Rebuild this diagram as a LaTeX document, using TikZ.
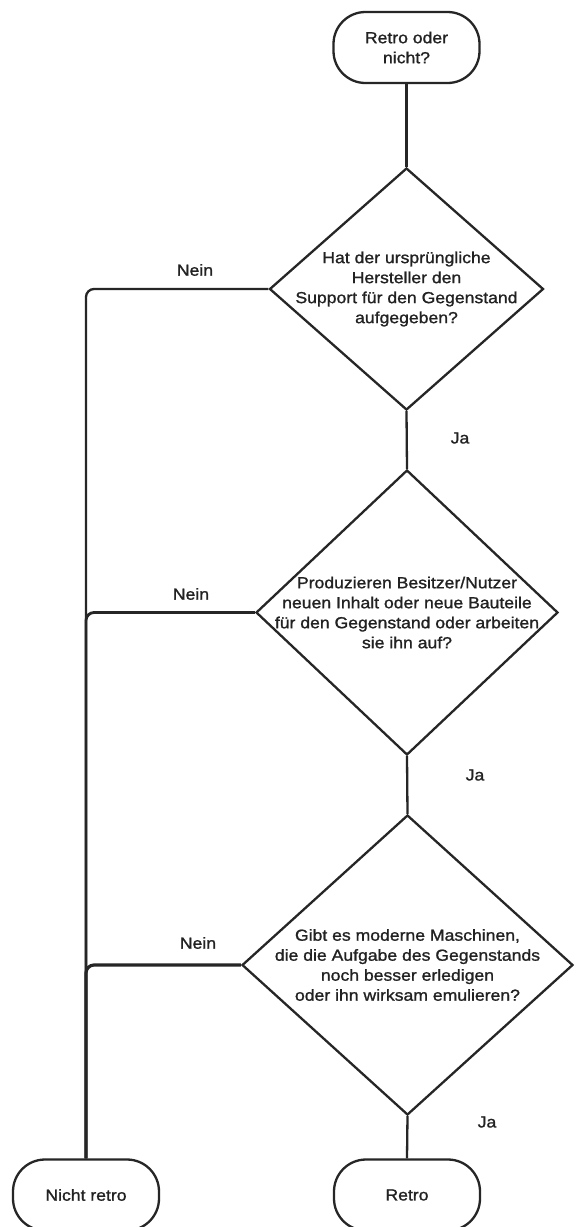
\documentclass[tikz,border=0pt]{standalone}
\usepackage{fontspec}
\setmainfont[FakeStretch=1.1,FakeBold=1.2]{Liberation Sans}
\usetikzlibrary{shapes.geometric}
\definecolor{ink}{HTML}{262626}
\definecolor{txt}{HTML}{222222}
\begin{document}
\begin{tikzpicture}[x=1pt,y=-1pt,
  every node/.style={font=\fontsize{16}{20}\selectfont, text=txt},
  term/.style={draw=ink, line width=2.3pt, rectangle, rounded corners=32pt,
    minimum width=146pt, minimum height=71pt, inner sep=0pt, align=center},
  decision/.style={draw=ink, line width=2.3pt, diamond, inner sep=0pt},
  conn/.style={draw=ink, line width=2.3pt},
  nein/.style={draw=ink, line width=2.3pt, rounded corners=8pt},
  lbl/.style={inner sep=0pt}]
\fill[white] (0,0) rectangle (579,1227);
\useasboundingbox (0,0) rectangle (579,1227);

\node[term] (start) at (406.5,47.5) {Retro oder\\nicht?};

\node[decision, minimum width=274pt, minimum height=242pt,
  label={[align=center,inner sep=0pt]center:Hat der ursprüngliche\\Hersteller den\\Support für den Gegenstand\\aufgegeben?}]
  (d1) at (406.5,289) {};

\node[decision, minimum width=302pt, minimum height=285pt,
  label={[align=center,inner sep=0pt]center:Produzieren Besitzer/Nutzer\\neuen Inhalt oder neue Bauteile\\für den Gegenstand oder arbeiten\\sie ihn auf?}]
  (d2) at (407,612.5) {};

\node[decision, minimum width=331pt, minimum height=300pt,
  label={[align=center,inner sep=0pt]center:Gibt es moderne Maschinen,\\die die Aufgabe des Gegenstands\\noch besser erledigen\\oder ihn wirksam emulieren?}]
  (d3) at (407.5,965) {};

\node[term] (nicht) at (86,1195) {Nicht retro};
\node[term] (retro) at (407,1195) {Retro};

\draw[conn] (start.south) -- (d1.north);
\draw[conn] (d1.south) -- (d2.north);
\draw[conn] (d2.south) -- (d3.north);
\draw[conn] (d3.south) -- (retro.north);

\draw[nein] (d1.west) -| (nicht.north);
\draw[nein, line width=2.8pt] (d2.west) -| (nicht.north);
\draw[nein, line width=3.2pt] (d3.west) -| (nicht.north);

\node[lbl] (n1) at (195,270) {Nein};
\node[lbl] (n2) at (191,594) {Nein};
\node[lbl] (n3) at (198,943) {Nein};
\node[lbl] (j1) at (460,438) {Ja};
\node[lbl] (j2) at (475,775) {Ja};
\node[lbl] (j3) at (487,1122) {Ja};
\end{tikzpicture}
\end{document}
